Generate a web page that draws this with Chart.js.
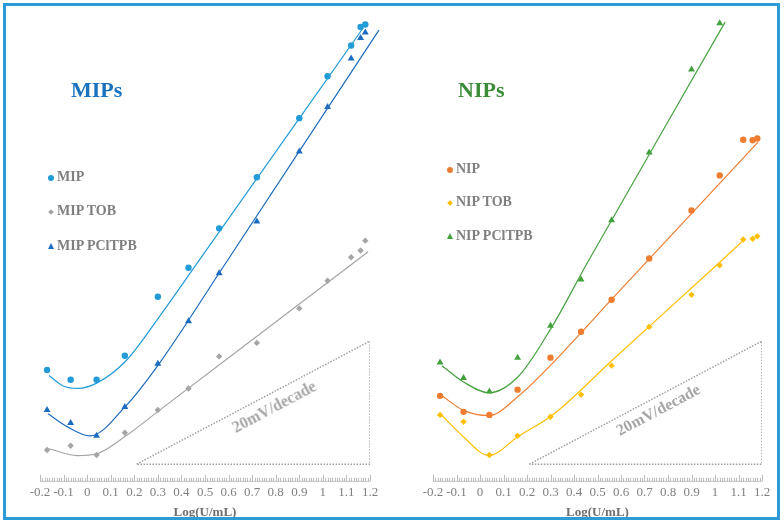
<!DOCTYPE html>
<html>
<head>
<meta charset="utf-8">
<script src="https://cdn.jsdelivr.net/npm/chart.js@4.4.1/dist/chart.umd.min.js"></script>
<style>
  body { margin: 0; background: #fff; font-family: "Liberation Serif", serif; }
  #wrap { position: relative; width: 784px; height: 526px; overflow: hidden; }
  #frame { position: absolute; left: 3px; top: 3px; width: 771px; height: 511px; border: 3px solid #2d9bd8; }
  .panel { position: absolute; top: 0; width: 392px; height: 526px; }
  .ttl { position: absolute; font-weight: bold; font-size: 22px; }
  .leg { position: absolute; font-weight: bold; font-size: 14px; color: #7f7f7f; white-space: nowrap; }
  .dot { position: absolute; left: -9px; top: 6px; width: 6px; height: 6px; border-radius: 50%; }
  .dia { position: absolute; left: -8px; top: 7px; width: 4px; height: 4px; transform: rotate(45deg); }
  .tri { position: absolute; left: -9px; top: 5px; width: 0; height: 0; border-left: 3.5px solid transparent; border-right: 3.5px solid transparent; }
  .slope { position: absolute; font-weight: bold; font-size: 16px; color: #a6a6a6; transform: rotate(-28deg); white-space: nowrap; }
</style>
</head>
<body>
<div id="wrap">
  <div class="panel" style="left:0"><canvas id="mipChart" width="392" height="526"></canvas></div>
  <div class="panel" style="left:392px"><canvas id="nipChart" width="392" height="526"></canvas></div>

  <div class="ttl" style="left:71px; top:77px; color:#1b72bf">MIPs</div>
  <div class="leg" style="left:57px; top:169px"><span class="dot" style="background:#239bd6"></span>MIP</div>
  <div class="leg" style="left:57px; top:203px"><span class="dia" style="background:#a5a5a5"></span>MIP TOB</div>
  <div class="leg" style="left:57px; top:238px"><span class="tri" style="border-bottom:6px solid #1d6cbf"></span>MIP PClTPB</div>
  <div class="slope" style="left:228px; top:398px">20mV/decade</div>

  <div class="ttl" style="left:458px; top:77px; color:#3b8c37">NIPs</div>
  <div class="leg" style="left:456px; top:161px"><span class="dot" style="background:#ee7d31"></span>NIP</div>
  <div class="leg" style="left:456px; top:194px"><span class="dia" style="background:#ffbf00"></span>NIP TOB</div>
  <div class="leg" style="left:456px; top:228px"><span class="tri" style="border-bottom:6px solid #43a13c"></span>NIP PClTPB</div>
  <div class="slope" style="left:612px; top:401px">20mV/decade</div>

  <div id="frame"></div>
</div>
<script>
// log concentration, same for every electrode
const logX = [-0.17, -0.07, 0.04, 0.16, 0.30, 0.43, 0.56, 0.72, 0.90, 1.02, 1.12, 1.16, 1.18]

// potentials (mV, relative)
const mipY   = [18.0, 16.4, 16.4, 20.3, 29.9, 34.6, 41.0, 49.3, 58.9, 65.7, 70.7, 73.7, 74.1]
const mipTobY = [5.0, 5.7, 4.2, 7.8, 11.5, 15.0, 20.2, 22.4, 28.0, 32.5, 36.3, 37.4, 39.0]
const mipPcY = [11.5, 9.4, 7.3, 12.0, 19.0, 25.9, 33.7, 42.1, 53.5, 60.7, 68.6, 71.9, 72.8]

const nipY    = [13.8, 11.2, 10.7, 14.8, 20.0, 24.2, 29.4, 36.1, 43.9, 49.6, 55.4, 55.3, 55.6]
const nipTobY = [10.7, 9.6, 4.2, 7.3, 10.4, 14.0, 18.7, 25.0, 30.2, 35.0, 39.2, 39.3, 39.7]
const nipPcY  = [19.2, 16.7, 14.5, 20.0, 25.2, 32.7, 42.3, 53.3, 66.8, 74.3]

// fitted curves
const mipFitX = [-0.162, -0.102, -0.039, 0.042, 0.165, 0.309, 0.466, 1.170]
const mipFitY = [17.1, 15.4, 15.0, 15.9, 19.5, 26.8, 35.3, 73.5]
const mipTobFitX = [-0.162, -0.043, 0.042, 0.165, 0.305, 0.6, 0.9, 1.192]
const mipTobFitY = [5.2, 4.1, 4.4, 7.3, 11.4, 20.0, 28.7, 37.2]
const mipPcFitX = [-0.166, -0.085, 0.012, 0.165, 0.305, 0.568, 1.238]
const mipPcFitY = [10.9, 8.8, 7.3, 12.2, 19.0, 34.2, 73.2]

const nipFitX = [-0.162, -0.068, 0.038, 0.162, 0.306, 0.566, 1.183]
const nipFitY = [13.8, 11.4, 10.6, 13.7, 19.0, 29.7, 55.0]
const nipTobFitX = [-0.162, -0.072, 0.038, 0.162, 0.306, 0.566, 1.026, 1.128]
const nipTobFitY = [10.6, 7.2, 4.1, 7.2, 10.6, 19.7, 35.7, 39.3]
const nipPcFitX = [-0.162, -0.072, 0.038, 0.162, 0.306, 0.455, 1.043]
const nipPcFitY = [18.7, 16.1, 14.3, 16.9, 25.0, 35.3, 74.5]

// slope reference triangle
const triX = [0.21, 1.2, 1.2, 0.21]
const triY = [2.7, 22.7, 2.7, 2.7]

const xTicks = [-0.2, -0.1, 0, 0.1, 0.2, 0.3, 0.4, 0.5, 0.6, 0.7, 0.8, 0.9, 1, 1.1, 1.2]

function pts(xs, ys) {
  return ys.map((y, i) => ({ x: xs[i], y: y }))
}

function markers(label, ys, color, style, r) {
  return { label: label, data: pts(logX, ys), backgroundColor: color, borderColor: color,
    pointStyle: style, pointRadius: r, borderWidth: 0, showLine: false }
}

function fit(xs, ys, color) {
  return { data: pts(xs, ys), borderColor: color, borderWidth: 1.2, pointRadius: 0,
    showLine: true, cubicInterpolationMode: 'monotone', clip: false, fill: false }
}

// ruler-like axis with minor ticks
const ruler = {
  id: 'ruler',
  afterDraw(chart) {
    const ctx = chart.ctx
    const sx = chart.scales.x
    const base = chart.chartArea.bottom
    ctx.save()
    ctx.strokeStyle = '#bdbdbd'
    ctx.lineWidth = 1
    ctx.beginPath()
    ctx.moveTo(sx.getPixelForValue(-0.2), base + 0.5)
    ctx.lineTo(sx.getPixelForValue(1.2), base + 0.5)
    for (let i = -20; i <= 120; i++) {
      const px = Math.round(sx.getPixelForValue(i / 100)) + 0.5
      const len = i % 10 === 0 ? 6 : 3
      ctx.moveTo(px, base + 0.5)
      ctx.lineTo(px, base - len)
    }
    ctx.stroke()
    ctx.restore()
  }
}

function drawPanel(id, sets, padLeft) {
  const ctx = document.getElementById(id).getContext('2d')
  new Chart(ctx, {
    type: 'scatter',
    data: { datasets: sets.concat([{
      data: pts(triX, triY), borderColor: '#a0a0a0', borderWidth: 1.5, borderDash: [1.5, 1.5],
      pointRadius: 0, showLine: true, tension: 0, fill: false
    }]) },
    options: {
      responsive: false,
      animation: false,
      layout: { padding: { left: padLeft, right: 22, top: 19, bottom: 3 } },
      plugins: { legend: { display: false }, tooltip: { enabled: false } },
      scales: {
        x: {
          type: 'linear', min: -0.2, max: 1.2,
          grid: { display: false, drawTicks: false },
          border: { display: false },
          afterBuildTicks: (scale) => { scale.ticks = xTicks.map((v) => ({ value: v })) },
          ticks: { padding: 4, color: '#808080', font: { family: 'Liberation Serif', size: 13 },
            maxRotation: 0, minRotation: 0, autoSkip: false,
            callback: (v) => String(Math.round(v * 10) / 10) },
          title: { display: true, text: 'Log(U/mL)', color: '#6f6f6f', padding: { top: 0, bottom: 3 },
            font: { family: 'Liberation Serif', size: 13, weight: 'bold' } }
        },
        y: { display: false, min: 0, max: 75 }
      }
    },
    plugins: [ruler]
  })
}

drawPanel('mipChart', [
  markers('MIP', mipY, '#239bd6', 'circle', 3.2),
  markers('MIP TOB', mipTobY, '#a5a5a5', 'rectRot', 3.2),
  markers('MIP PClTPB', mipPcY, '#1d6cbf', 'triangle', 4),
  fit(mipFitX, mipFitY, '#239bd6'),
  fit(mipTobFitX, mipTobFitY, '#a5a5a5'),
  fit(mipPcFitX, mipPcFitY, '#1d6cbf')
], 40)

drawPanel('nipChart', [
  markers('NIP', nipY, '#ee7d31', 'circle', 3.2),
  markers('NIP TOB', nipTobY, '#ffbf00', 'rectRot', 3.2),
  markers('NIP PClTPB', nipPcY, '#43a13c', 'triangle', 4),
  fit(nipFitX, nipFitY, '#ee7d31'),
  fit(nipTobFitX, nipTobFitY, '#ffbf00'),
  fit(nipPcFitX, nipPcFitY, '#43a13c')
], 41)
</script>
</body>
</html>
